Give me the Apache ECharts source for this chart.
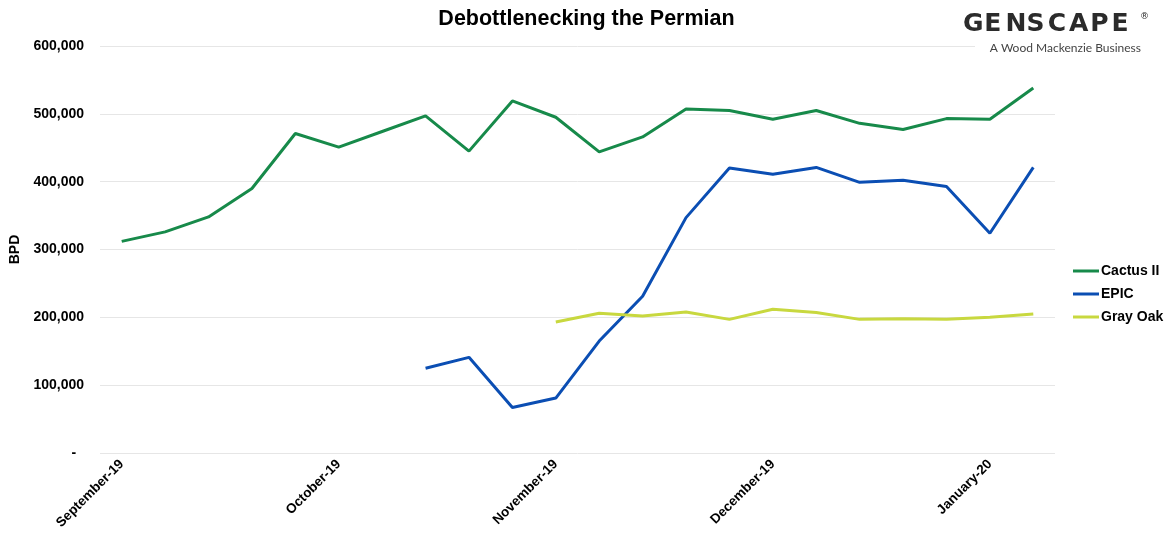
<!DOCTYPE html>
<html>
<head>
<meta charset="utf-8">
<script src="https://cdn.jsdelivr.net/npm/echarts@6/dist/echarts.min.js"></script>
<style>
html,body{margin:0;padding:0;background:#fff;}
#chart{width:1173px;height:543px;}
</style>
</head>
<body>
<div id="chart"></div>
<script>
// Weekly categories
const categories = ["2019-09-02","2019-09-09","2019-09-16","2019-09-23","2019-09-30",
  "2019-10-07","2019-10-14","2019-10-21","2019-10-28","2019-11-04",
  "2019-11-11","2019-11-18","2019-11-25","2019-12-02","2019-12-09",
  "2019-12-16","2019-12-23","2019-12-30","2020-01-06","2020-01-13",
  "2020-01-20","2020-01-27"];
const xTickLabels = ["September-19","October-19","November-19","December-19","January-20"];
const cactusII = [312000,326000,348000,390000,471000,451000,474000,497000,445000,519000,
  495000,444000,466000,507000,505000,492000,505000,486000,477000,493000,492000,538000];
const epic = [null,null,null,null,null,null,null,125000,141000,67000,
  81000,165000,231000,347000,420000,411000,421000,399000,402000,393000,324000,421000];
const grayOak = [null,null,null,null,null,null,null,null,null,null,
  193000,206000,202000,208000,197000,212000,207000,197000,198000,197000,200000,205000];
const yTicks = [0,100000,200000,300000,400000,500000,600000];

const FONT = "'Liberation Sans', Arial, sans-serif";
const chart = echarts.init(document.getElementById('chart'), null, {renderer:'canvas'});

const logoGraphics = [
  {type:'rect', shape:{x:975, y:38, width:175, height:18}, style:{fill:'#fff'}, z:10}
];
"GENSCAPE".split("").forEach((ch, i) => logoGraphics.push({
  type: 'text', left: 963 + i * 21.2, top: 12, z: 11,
  style: {text: ch, font: "bold 25px 'DejaVu Sans', sans-serif", fill: '#2b2b2b'}
}));
logoGraphics.push({type:'text', left:1140, top:12, z:11, style:{text:'®', font:"9px 'DejaVu Sans', sans-serif", fill:'#2b2b2b'}});
logoGraphics.push({type:'text', right:32, top:42, z:11, style:{text:'A Wood Mackenzie Business', font:"12px 'Lato', 'DejaVu Sans', sans-serif", fill:'#444'}});

chart.setOption({
  animation: false,
  backgroundColor: '#fff',
  title: {
    text: 'Debottlenecking the Permian', left: 'center', top: 3,
    textStyle: {fontFamily: FONT, fontSize: 21.5, fontWeight: 'bold', color: '#000'}
  },
  graphic: logoGraphics,
  legend: {
    orient: 'vertical', left: 1068, top: 258, itemGap: 7,
    icon: 'rect', itemWidth: 26, itemHeight: 3,
    textStyle: {fontFamily: FONT, fontSize: 14, fontWeight: 'bold', color: '#000', lineHeight: 16, padding: [0,0,0,-3]},
    data: ['Cactus II','EPIC','Gray Oak']
  },
  grid: {left: 100, right: 118, top: 46, bottom: 90, containLabel: false},
  xAxis: {
    type: 'category', data: categories, boundaryGap: true,
    axisLine: {show: false}, axisTick: {show: false},
    axisLabel: {
      interval: 4, rotate: 45, margin: 9,
      fontFamily: FONT, fontSize: 13.5, fontWeight: 'bold', color: '#000',
      formatter: (v, i) => xTickLabels[Math.round(i / 5)]
    }
  },
  yAxis: {
    type: 'value', min: 0, max: 600000, interval: 100000,
    name: 'BPD', nameLocation: 'middle', nameRotate: 90, nameGap: 76,
    nameTextStyle: {fontFamily: FONT, fontSize: 14, fontWeight: 'bold', color: '#000'},
    axisLine: {show: false}, axisTick: {show: false},
    splitLine: {lineStyle: {color: '#e6e6e6', width: 1}},
    axisLabel: {
      margin: 16, fontFamily: FONT, fontSize: 14, fontWeight: 'bold', color: '#000',
      formatter: v => (v === 0 ? '-  ' : yTicks.includes(v) ? v.toLocaleString('en-US') : '')
    }
  },
  series: [
    {name:'Cactus II', type:'line', data: cactusII, symbol:'none', lineStyle:{width:3, color:'#178a4a'}, itemStyle:{color:'#178a4a'}},
    {name:'EPIC', type:'line', data: epic, symbol:'none', lineStyle:{width:3, color:'#0b4eb3'}, itemStyle:{color:'#0b4eb3'}},
    {name:'Gray Oak', type:'line', data: grayOak, symbol:'none', lineStyle:{width:3, color:'#c8d83f'}, itemStyle:{color:'#c8d83f'}}
  ]
});
</script>
</body>
</html>
